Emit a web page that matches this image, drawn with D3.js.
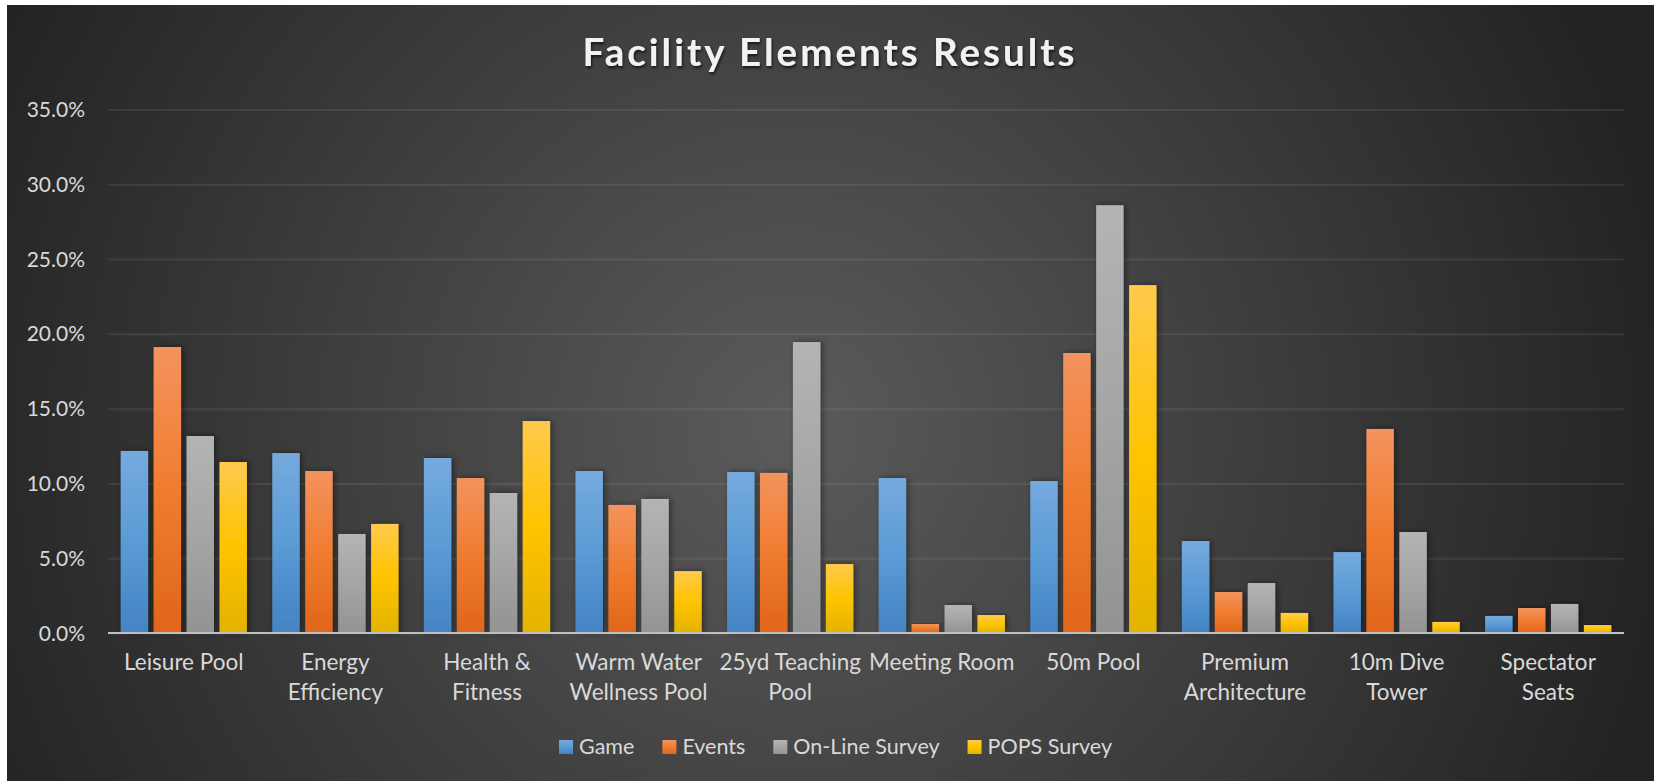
<!DOCTYPE html>
<html>
<head>
<meta charset="utf-8">
<script src="https://cdn.jsdelivr.net/npm/d3@7"></script>
<style>
    body { margin: 0; background: #ffffff; }
    text { font-family: Lato, "Open Sans", sans-serif; }
</style>
</head>
<body>
<div id="chart"></div>
<script>
// chart data (percent values)
const categories = ["Leisure Pool", "Energy Efficiency", "Health & Fitness", "Warm Water Wellness Pool",
    "25yd Teaching Pool", "Meeting Room", "50m Pool", "Premium Architecture", "10m Dive Tower", "Spectator Seats"];
const categoryLines = [["Leisure Pool"], ["Energy", "Efficiency"], ["Health &", "Fitness"], ["Warm Water", "Wellness Pool"],
    ["25yd Teaching", "Pool"], ["Meeting Room"], ["50m Pool"], ["Premium", "Architecture"], ["10m Dive", "Tower"], ["Spectator", "Seats"]];
const seriesNames = ["Game", "Events", "On-Line Survey", "POPS Survey"];
const game   = [12.17, 12.03, 11.70, 10.83, 10.76, 10.36, 10.16, 6.15, 5.41, 1.14];
const events = [19.12, 10.83, 10.36, 8.56, 10.70, 0.60, 18.72, 2.74, 13.64, 1.67];
const online = [13.17, 6.62, 9.36, 8.96, 19.45, 1.87, 28.60, 3.34, 6.75, 1.94];
const pops   = [11.43, 7.29, 14.17, 4.14, 4.61, 1.20, 23.26, 1.34, 0.74, 0.53];
const yTicks = [0, 5, 10, 15, 20, 25, 30, 35];
const chartTitle = "Facility Elements Results";

const WIDTH = 1654, HEIGHT = 781;
const frame = { x: 7, y: 5 };
const plot = { left: 108, right: 1624, top: 109.5, bottom: 633 };
const textColour = "#d9d9d9";
const barShades = {
    "Game":           ["#75aade", "#5b9bd5", "#4483c4"],
    "Events":         ["#f4935e", "#f07c2f", "#e0661a"],
    "On-Line Survey": ["#b4b4b4", "#a5a5a5", "#939393"],
    "POPS Survey":    ["#ffca4d", "#ffc300", "#e2b300"]
};

const values = [game, events, online, pops];
const dataset = categories.map((cat, i) => ({
    category: cat,
    lines: categoryLines[i],
    bars: seriesNames.map((s, k) => ({ series: s, value: values[k][i] / 100 }))
}));

const svg = d3.select("#chart")
    .append("svg")
        .attr("width", WIDTH)
        .attr("height", HEIGHT);

const defs = svg.append("defs");

const bg = defs.append("radialGradient")
    .attr("id", "bg-grad")
    .attr("gradientUnits", "userSpaceOnUse")
    .attr("cx", 790).attr("cy", 430).attr("r", 900);
bg.append("stop").attr("offset", "0").attr("stop-color", "#5b5b5b");
bg.append("stop").attr("offset", "1").attr("stop-color", "#222222");

seriesNames.forEach((s, k) => {
    const g = defs.append("linearGradient")
        .attr("id", "bar-grad-" + k)
        .attr("x1", 0).attr("y1", 0).attr("x2", 0).attr("y2", 1);
    g.append("stop").attr("offset", "0").attr("stop-color", barShades[s][0]);
    g.append("stop").attr("offset", "0.5").attr("stop-color", barShades[s][1]);
    g.append("stop").attr("offset", "1").attr("stop-color", barShades[s][2]);
});

defs.append("filter")
    .attr("id", "bar-shadow")
    .attr("x", "-30%").attr("y", "-10%").attr("width", "170%").attr("height", "120%")
    .append("feDropShadow")
        .attr("dx", 2).attr("dy", 0)
        .attr("stdDeviation", 3)
        .attr("flood-color", "#000")
        .attr("flood-opacity", 0.45);

defs.append("filter")
    .attr("id", "title-shadow")
    .append("feDropShadow")
        .attr("dx", 1).attr("dy", 2)
        .attr("stdDeviation", 1.5)
        .attr("flood-color", "#000")
        .attr("flood-opacity", 0.7);

svg.append("rect")
    .attr("x", frame.x)
    .attr("y", frame.y)
    .attr("width", WIDTH - frame.x)
    .attr("height", HEIGHT - frame.y)
    .attr("fill", "url(#bg-grad)");

// title
const title = svg.append("text")
    .attr("x", 830)
    .attr("y", 65.5)
    .attr("text-anchor", "middle")
    .attr("fill", "#f2f2f2")
    .attr("font-size", 38.5)
    .attr("font-weight", 700)
    .attr("filter", "url(#title-shadow)")
    .text(chartTitle);
const rawLen = title.node().getComputedTextLength();
title.attr("letter-spacing", ((492 - rawLen) / (chartTitle.length - 1)) + "px");

// scales
const x0 = d3.scaleBand()
    .domain(categories)
    .range([plot.left, plot.right]);

const x1 = d3.scaleBand()
    .domain(seriesNames)
    .range([0, x0.bandwidth()])
    .paddingInner(0.167)
    .paddingOuter(0.385);

const y = d3.scaleLinear()
    .domain([0, 0.35])
    .range([plot.bottom, plot.top]);

// gridlines + y labels
const yAxis = d3.axisLeft(y)
    .tickValues(yTicks.map(t => t / 100))
    .tickFormat(d3.format(".1%"))
    .tickSize(-(plot.right - plot.left))
    .tickPadding(23);

svg.append("g")
    .attr("transform", `translate(${plot.left}, 0)`)
    .call(yAxis)
    .call(g => g.select(".domain").remove())
    .call(g => g.selectAll(".tick line")
        .attr("stroke", "#ffffff")
        .attr("stroke-opacity", 0.08)
        .attr("stroke-width", 2))
    .call(g => g.selectAll(".tick text")
        .attr("fill", textColour)
        .attr("font-size", 21)
        .attr("dy", "0.34em"));

// bars
const groups = svg.append("g")
    .selectAll("g")
    .data(dataset)
    .enter()
    .append("g")
        .attr("transform", d => `translate(${x0(d.category)}, 0)`);

groups.selectAll("rect")
    .data(d => d.bars)
    .enter()
    .append("rect")
        .attr("x", d => x1(d.series))
        .attr("y", d => y(d.value))
        .attr("width", x1.bandwidth())
        .attr("height", d => plot.bottom - y(d.value))
        .attr("fill", d => "url(#bar-grad-" + seriesNames.indexOf(d.series) + ")")
        .attr("filter", "url(#bar-shadow)");

// x axis line
svg.append("line")
    .attr("x1", plot.left)
    .attr("x2", plot.right)
    .attr("y1", plot.bottom)
    .attr("y2", plot.bottom)
    .attr("stroke", "#bfbfbf")
    .attr("stroke-width", 2);

// category labels
const labels = svg.append("g")
    .selectAll("text")
    .data(dataset)
    .enter()
    .append("text")
        .attr("x", d => x0(d.category) + x0.bandwidth() / 2)
        .attr("y", 670)
        .attr("text-anchor", "middle")
        .attr("fill", textColour)
        .attr("font-size", 22.5);

labels.selectAll("tspan")
    .data(d => d.lines)
    .enter()
    .append("tspan")
        .attr("x", function() { return d3.select(this.parentNode).attr("x"); })
        .attr("dy", (d, i) => i === 0 ? 0 : 30)
        .text(d => d);

// legend
const legend = svg.append("g");
let cursor = 0;
seriesNames.forEach((s, k) => {
    const item = legend.append("g").attr("transform", `translate(${cursor}, 0)`);
    item.append("rect")
        .attr("x", 0).attr("y", 740)
        .attr("width", 14).attr("height", 14)
        .attr("fill", "url(#bar-grad-" + k + ")");
    const t = item.append("text")
        .attr("x", 20)
        .attr("y", 754)
        .attr("fill", textColour)
        .attr("font-size", 21.5)
        .text(s);
    cursor += 20 + t.node().getComputedTextLength() + 28;
});
const legendWidth = cursor - 28;
legend.attr("transform", `translate(${835.5 - legendWidth / 2}, 0)`);
</script>
</body>
</html>
